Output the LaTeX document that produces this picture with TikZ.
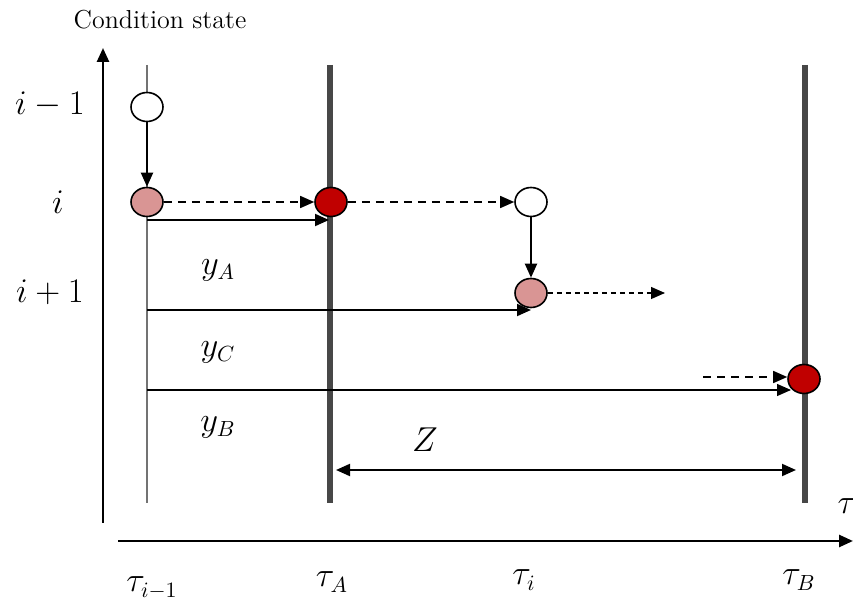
\documentclass[tikz,border=0pt]{standalone}
\usetikzlibrary{arrows.meta,shapes.geometric}
\begin{document}
\begin{tikzpicture}[x=0.5pt,y=-0.5pt,
  font=\fontsize{13}{15}\selectfont,
  tip/.style={-{Triangle[length=7pt,width=6pt]}},
  axisline/.style={line width=1.3pt,-{Triangle[length=7pt,width=6pt]}},
  thinv/.style={draw=black!55,line width=0.7pt},
  thickv/.style={draw=black!72,line width=2.6pt},
  state/.style={ellipse,draw=black,line width=0.8pt,minimum width=16pt,minimum height=14.5pt,inner sep=0pt},
  pinkst/.style={state,fill=pinkc},
  redst/.style={state,fill=redc},
  whitest/.style={state,fill=white},
  solidarr/.style={tip,line width=1pt},
  dasharr/.style={tip,line width=0.75pt,dash pattern=on 4pt off 3pt},
  dotarr/.style={tip,line width=0.6pt,dash pattern=on 2.5pt off 2pt},
  lab/.style={inner sep=1pt},
  mlab/.style={inner sep=1pt,font=\fontsize{16}{18}\selectfont}
]
\definecolor{pinkc}{HTML}{D99594}
\definecolor{redc}{HTML}{C00000}
\useasboundingbox (0,0) rectangle (853,603);

% title
\node[lab] (title) at (160,20) {Condition state};

% axes
\coordinate (vaB) at (103,523);
\coordinate (vaT) at (103,48);
\draw[axisline] (vaB) -- (vaT);
\coordinate (haL) at (118,541);
\coordinate (haR) at (853,541);
\draw[axisline] (haL) -- (haR);
\node[mlab] (tau) at (847,506) {$\tau$};

% vertical time lines
\coordinate (t0T) at (147,65);
\coordinate (t0B) at (147,503);
\draw[thinv] (t0T) -- (t0B);
\coordinate (tAT) at (330,65);
\coordinate (tAB) at (330,503);
\draw[thickv] (tAT) -- (tAB);
\coordinate (tBT) at (805,65);
\coordinate (tBB) at (805,503);
\draw[thickv] (tBT) -- (tBB);

% state labels
\node[mlab] (sim1) at (50,105) {$i-1$};
\node[mlab] (si) at (58,202) {$i$};
\node[mlab] (sip1) at (50,292) {$i+1$};

% states
\node[whitest] (c1) at (147,107) {};
\node[pinkst] (c2) at (147,202) {};
\node[redst] (r1) at (331,202) {};
\node[whitest] (w1) at (531,202) {};
\node[pinkst] (p2) at (531,293) {};
\node[redst] (r2) at (804,379) {};

% transitions
\draw[solidarr] (c1) -- (c2);
\draw[dasharr] (c2) -- (r1);
\draw[dasharr] (r1) -- (w1);
\draw[solidarr] (w1) -- (p2);
\coordinate (p2e) at (665,293);
\draw[dotarr] (p2) -- (p2e);
\coordinate (r2s) at (703,377);
\draw[dasharr] (r2s) -- (r2.west |- r2s);

% durations
\coordinate (yAs) at (147,220);
\coordinate (yAe) at (329,220);
\draw[solidarr] (yAs) -- (yAe);
\coordinate (yCs) at (147,310);
\coordinate (yCe) at (531,310);
\draw[solidarr] (yCs) -- (yCe);
\coordinate (yBs) at (147,390);
\coordinate (yBe) at (791,390);
\draw[tip,line width=0.65pt] (yBs) -- (yBe);
\coordinate (zL) at (336,470);
\coordinate (zR) at (796,470);
\draw[{Triangle[length=7pt,width=6pt]}-{Triangle[length=7pt,width=6pt]},line width=1pt] (zL) -- (zR);

% duration labels
\node[mlab] (lyA) at (218,270) {$y_A$};
\node[mlab] (lyC) at (218,352) {$y_C$};
\node[mlab] (lyB) at (218,427) {$y_B$};
\node[mlab] (lZ) at (425,440) {$Z$};

% time labels
\node[mlab] (ltim1) at (152,588) {$\tau_{i-1}$};
\node[mlab] (ltA) at (332,582) {$\tau_A$};
\node[mlab] (lti) at (524,580) {$\tau_i$};
\node[mlab] (ltB) at (799,580) {$\tau_B$};
\end{tikzpicture}
\end{document}
